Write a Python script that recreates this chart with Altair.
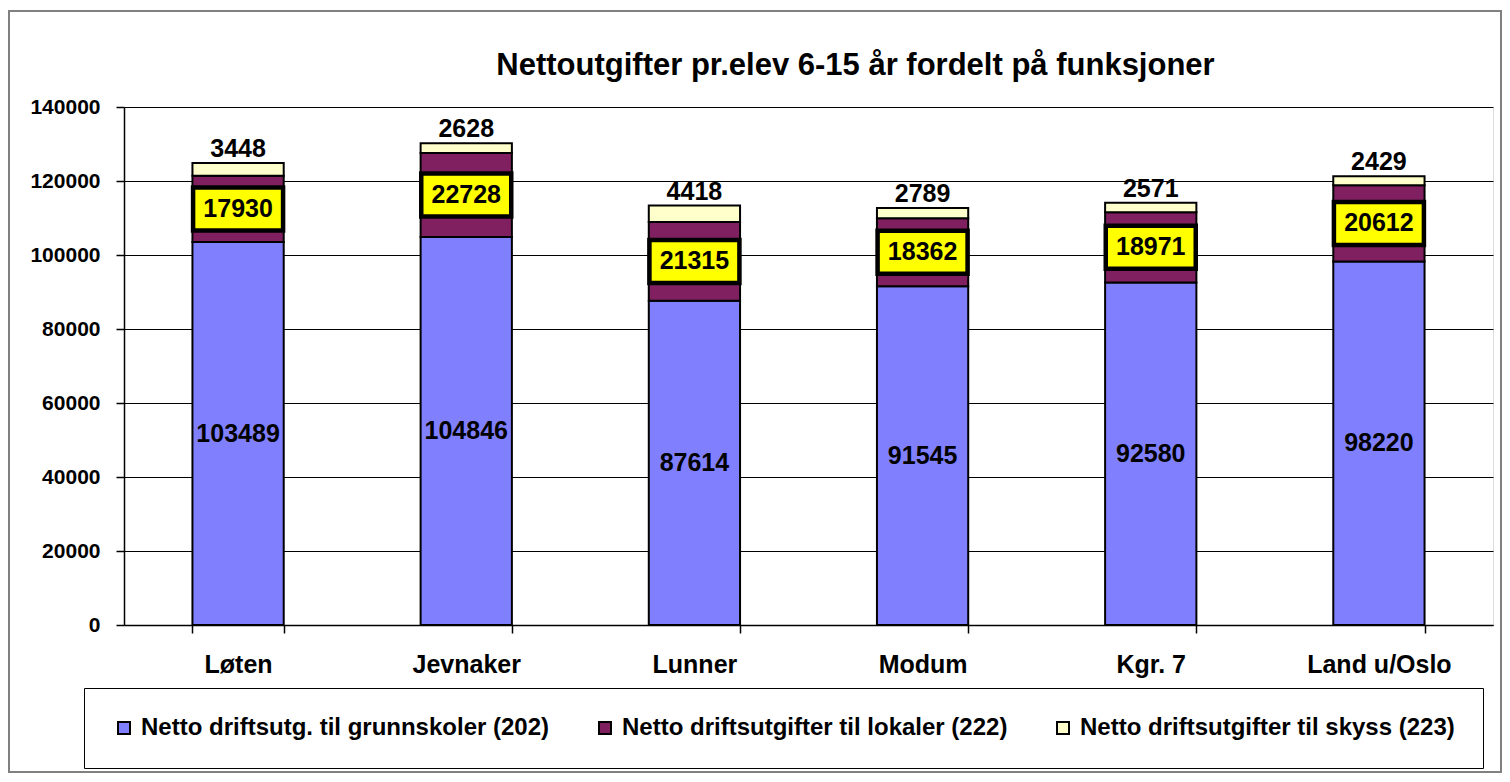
import altair as alt
import pandas as pd

categories = ["Løten", "Jevnaker", "Lunner", "Modum", "Kgr. 7", "Land u/Oslo"]
grunnskoler = [103489, 104846, 87614, 91545, 92580, 98220]
lokaler = [17930, 22728, 21315, 18362, 18971, 20612]
skyss = [3448, 2628, 4418, 2789, 2571, 2429]
series_names = [
    "Netto driftsutg. til grunnskoler (202)",
    "Netto driftsutgifter til lokaler (222)",
    "Netto driftsutgifter til skyss (223)",
]
series_colors = ["#8080FF", "#802060", "#FFFFCC"]
y_ticks = [0, 20000, 40000, 60000, 80000, 100000, 120000, 140000]
title_text = "Nettoutgifter pr.elev 6-15 år fordelt på funksjoner"

rows = []
for i, c in enumerate(categories):
    for k, vals in enumerate([grunnskoler, lokaler, skyss]):
        rows.append({"cat": c, "series": series_names[k], "order": k, "value": vals[i]})
df = pd.DataFrame(rows)

FONT = "Liberation Sans, Arial"

base = alt.Chart(df).transform_stack(
    stack="value", groupby=["cat"], as_=["y0", "y1"], sort=[alt.SortField("order")]
).transform_calculate(mid="(datum.y0 + datum.y1) / 2")

x_enc = alt.X(
    "cat:N",
    sort=categories,
    scale=alt.Scale(paddingInner=0.6, paddingOuter=0.3),
    axis=alt.Axis(
        title=None, labelAngle=0, labelFont=FONT, labelFontSize=25, labelFontWeight="bold",
        labelColor="black", tickBand="extent", tickSize=8, tickColor="black", tickWidth=1.5,
        domainColor="black", domainWidth=1.5, labelPadding=19, grid=False,
    ),
)
y_scale = alt.Scale(domain=[0, 140000], nice=False)

bars = base.mark_bar(stroke="black", strokeWidth=2).encode(
    x=x_enc,
    y=alt.Y(
        "y0:Q", scale=y_scale,
        axis=alt.Axis(
            title=None, values=y_ticks, format="d", labelFont=FONT, labelFontSize=21,
            labelFontWeight="bold", labelColor="black", tickSize=8, tickColor="black",
            tickWidth=1.5, domainColor="black", domainWidth=1.5, labelPadding=16,
            grid=True, gridColor="black", gridWidth=1,
        ),
    ),
    y2="y1:Q",
    color=alt.Color(
        "series:N",
        scale=alt.Scale(domain=series_names, range=series_colors),
        legend=alt.Legend(
            title=None, orient="none", legendX=-40, legendY=581, direction="horizontal",
            symbolType="square", symbolSize=144, symbolStrokeColor="black", symbolStrokeWidth=2,
            labelFont=FONT, labelFontSize=24, labelFontWeight="bold", labelColor="black",
            labelOffset=5, columnPadding=43, padding=28, strokeColor="black",
            labelLimit=600, fillColor="white",
        ),
    ),
    order=alt.Order("order:Q"),
)

lbl_font = dict(font=FONT, fontSize=25, fontWeight="bold", color="black")

bottom_labels = base.transform_filter("datum.order == 0").mark_text(**lbl_font).encode(
    x=alt.X("cat:N", sort=categories), y=alt.Y("mid:Q", scale=y_scale), text="value:Q"
)

box = base.transform_filter("datum.order == 1").mark_point(
    shape="M-1,-0.478L1,-0.478L1,0.478L-1,0.478Z", size=8100, filled=True,
    fill="#FFFF00", stroke="black", strokeWidth=4.5, opacity=1, fillOpacity=1,
).encode(x=alt.X("cat:N", sort=categories), y=alt.Y("mid:Q", scale=y_scale))

mid_labels = base.transform_filter("datum.order == 1").mark_text(**lbl_font).encode(
    x=alt.X("cat:N", sort=categories), y=alt.Y("mid:Q", scale=y_scale), text="value:Q"
)

top_labels = base.transform_filter("datum.order == 2").mark_text(
    baseline="bottom", dy=-1, **lbl_font
).encode(x=alt.X("cat:N", sort=categories), y=alt.Y("y1:Q", scale=y_scale), text="value:Q")

frame = alt.Chart(alt.Data(values=[{"a": 1}])).mark_rect(
    fill=None, stroke="#808080", strokeWidth=2
).encode(
    x=alt.value(-115), x2=alt.value(1377), y=alt.value(-96), y2=alt.value(665)
)

chart = alt.layer(frame, bars, bottom_labels, box, mid_labels, top_labels).properties(
    width=1369,
    height=518,
    title=alt.TitleParams(
        title_text, font=FONT, fontSize=31, fontWeight="bold", color="black",
        anchor="middle", frame="group", dx=47, offset=-103, baseline="bottom",
    ),
    autosize=alt.AutoSizeParams(type="none"),
    padding={"left": 116, "top": 99, "right": 9, "bottom": 149},
).configure_view(stroke="#808080", strokeWidth=2).configure(background="white")

chart.save("out.html", embed_options={"renderer": "svg", "actions": False})
